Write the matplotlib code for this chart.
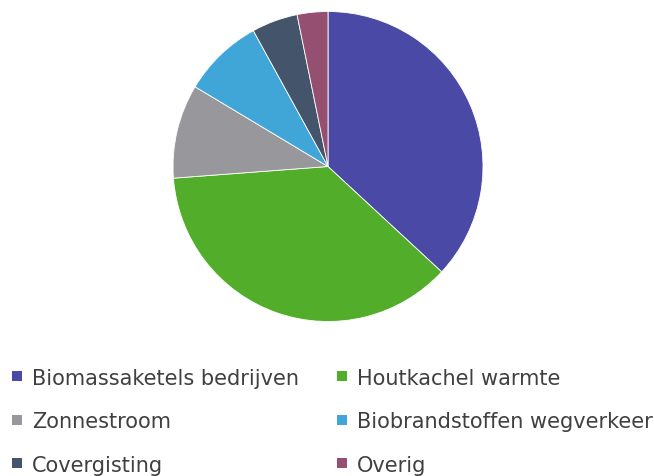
import matplotlib
matplotlib.use("Agg")
import matplotlib.pyplot as plt
from matplotlib.patches import Rectangle

labels = ["Biomassaketels bedrijven", "Houtkachel warmte", "Zonnestroom",
          "Biobrandstoffen wegverkeer", "Covergisting", "Overig"]
shares = [36.9, 36.9, 9.8, 8.4, 4.8, 3.2]
colors = ["#4B49A6", "#52AE2A", "#98989C", "#40A6D8", "#44546A", "#944F71"]

W, H = 654, 477
fig = plt.figure(figsize=(W / 100, H / 100), dpi=100)

cx, cy, r = 328, 167.5, 155
ax = fig.add_axes([(cx - r) / W, 1 - (cy + r) / H, 2 * r / W, 2 * r / H])
ax.pie(shares, colors=colors, startangle=90, counterclock=False,
       wedgeprops=dict(edgecolor="white", linewidth=0.6))
ax.set_aspect("equal")
ax.set_xlim(-1, 1)
ax.set_ylim(-1, 1)

# legend drawn by hand, two columns, row-wise
col_x = [12, 337]
row_y = [377, 420.5, 464]
sq = 10
for i, (lab, c) in enumerate(zip(labels, colors)):
    x = col_x[i % 2]
    y = row_y[i // 2]
    fig.patches.append(Rectangle((x / W, 1 - (y + sq / 2) / H), sq / W, sq / H,
                                 transform=fig.transFigure, facecolor=c,
                                 edgecolor="none"))
    fig.text((x + sq + 10) / W, 1 - y / H, lab, fontsize=15, color="#404040",
             va="center_baseline", ha="left")

fig.savefig("out.png", dpi=100)
